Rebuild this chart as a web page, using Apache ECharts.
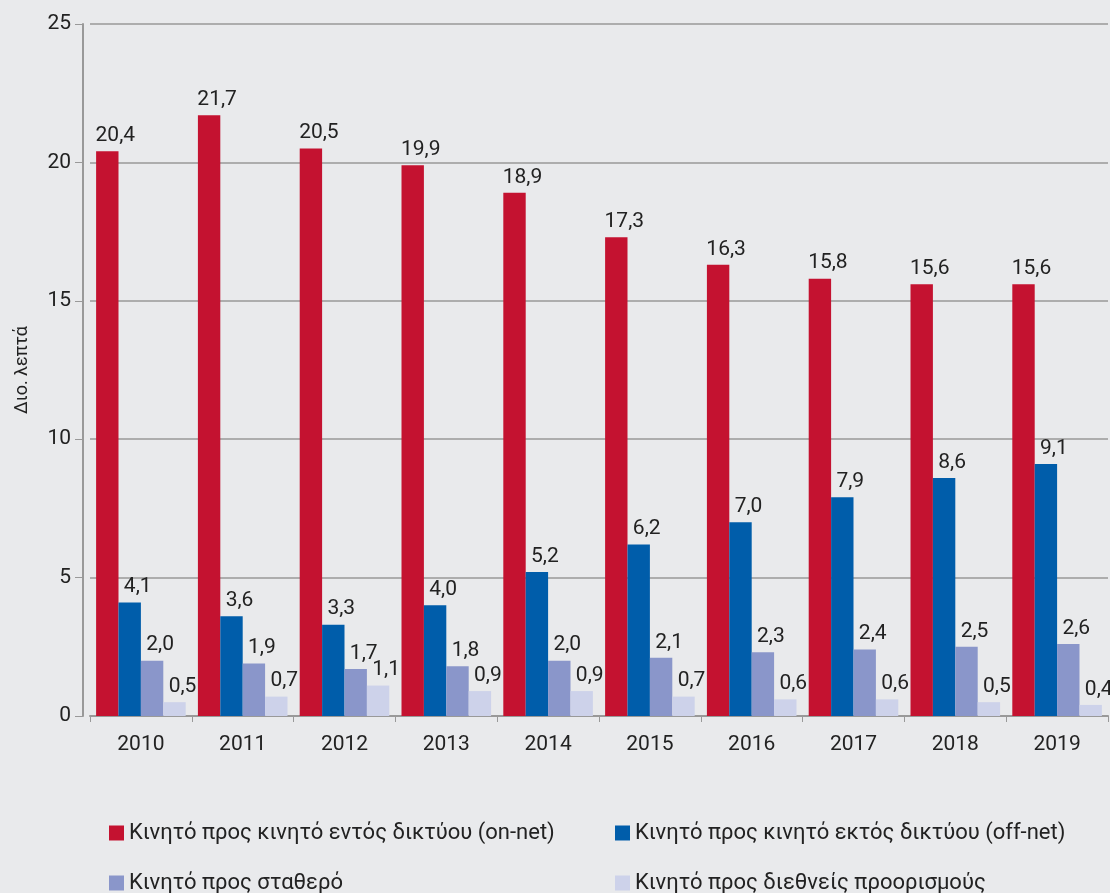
<!DOCTYPE html>
<html style="height: 100%">
<head>
<meta charset="UTF-8">
<title>Λεπτά ανά κατηγορία</title>
<script src="https://cdn.jsdelivr.net/npm/echarts@6/dist/echarts.min.js"></script>
</head>
<body style="height: 100%; margin: 0; background: #e9eaec">
<div id="container" style="width: 1110px; height: 893px"></div>
<script type="text/javascript">
// years on the x axis
var years = ['2010', '2011', '2012', '2013', '2014', '2015', '2016', '2017', '2018', '2019'];
// series names (legend)
var names = [
    'Κινητό προς κινητό εντός δικτύου (on-net)',
    'Κινητό προς κινητό εκτός δικτύου (off-net)',
    'Κινητό προς σταθερό',
    'Κινητό προς διεθνείς προορισμούς'
];
// values, billion minutes
var onNet = [20.4, 21.7, 20.5, 19.9, 18.9, 17.3, 16.3, 15.8, 15.6, 15.6];
var offNet = [4.1, 3.6, 3.3, 4.0, 5.2, 6.2, 7.0, 7.9, 8.6, 9.1];
var toFixed = [2.0, 1.9, 1.7, 1.8, 2.0, 2.1, 2.3, 2.4, 2.5, 2.6];
var intl = [0.5, 0.7, 1.1, 0.9, 0.9, 0.7, 0.6, 0.6, 0.5, 0.4];
var colors = ['#c41230', '#005daa', '#8a96ca', '#cdd2ea'];

var font = 'Roboto, "Noto Sans", sans-serif';
var chart = echarts.init(document.getElementById('container'));

function makeSeries(name, data, color) {
    return {
        name: name,
        type: 'bar',
        data: data,
        barGap: '0%',
        barCategoryGap: '12%',
        itemStyle: { color: color },
        label: {
            show: true,
            position: 'top',
            distance: 5,
            offset: [8, 0],
            color: '#222',
            fontSize: 21,
            fontFamily: font,
            formatter: function (p) {
                return p.value.toFixed(1).replace('.', ',');
            }
        }
    };
}

// one legend per item so the 2x2 layout sits where the reference has it
function makeLegend(name, left, top) {
    return {
        left: left,
        top: top,
        itemWidth: 15,
        itemHeight: 15,
        icon: 'rect',
        data: [name],
        textStyle: { fontSize: 22, color: '#222', fontFamily: font }
    };
}

var option = {
    backgroundColor: '#e9eaec',
    animation: false,
    color: colors,
    grid: { left: 90, right: 2, top: 24, bottom: 177, containLabel: false },
    legend: [
        makeLegend(names[0], 104, 817),
        makeLegend(names[1], 610, 817),
        makeLegend(names[2], 104, 867),
        makeLegend(names[3], 610, 867)
    ],
    xAxis: {
        type: 'category',
        data: years,
        axisLine: { lineStyle: { color: '#999', width: 2 } },
        axisTick: { show: true, length: 6, lineStyle: { color: '#999' } },
        axisLabel: { fontSize: 21, color: '#222', margin: 18, fontFamily: font }
    },
    yAxis: {
        type: 'value',
        min: 0,
        max: 25,
        interval: 5,
        offset: 7,
        name: 'Διο. λεπτά',
        nameLocation: 'middle',
        nameGap: 52,
        nameTextStyle: { fontSize: 18, color: '#222', fontFamily: font },
        axisLine: { show: true, lineStyle: { color: '#999', width: 2 } },
        axisTick: { show: true, length: 8, lineStyle: { color: '#999' } },
        axisLabel: { fontSize: 21, color: '#222', margin: 12, fontFamily: font },
        splitLine: { lineStyle: { color: '#999', width: 1.5 } }
    },
    series: [
        makeSeries(names[0], onNet, colors[0]),
        makeSeries(names[1], offNet, colors[1]),
        makeSeries(names[2], toFixed, colors[2]),
        makeSeries(names[3], intl, colors[3])
    ]
};

chart.setOption(option);
</script>
</body>
</html>
